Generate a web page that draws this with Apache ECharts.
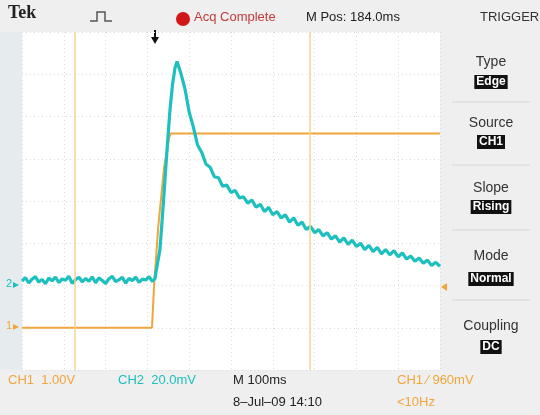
<!DOCTYPE html>
<html><head><meta charset="utf-8">
<script src="https://cdn.jsdelivr.net/npm/echarts@6/dist/echarts.min.js"></script>
<style>html,body{margin:0;padding:0;background:#efefef}#c{width:540px;height:415px}</style>
</head><body><div id="c"></div>
<script>
// time in ms from left edge of screen (100 ms/div, 10 div), trigger at ~316 ms
var ch1Data = [[0,0],[311,0],[316,1.0],[326,2.4],[340,3.8],[352,4.5],[356,4.6],[1000,4.6]];
var ch2Baseline = [[0,2.1],[8,3.8],[16,1.2],[24,3.0],[32,4.2],[40,1.6],[48,2.9],[56,0.8],[64,3.5],[72,2.2],[80,4.0],[88,1.4],[96,3.1],[104,2.5],[112,4.4],[120,1.0],[128,2.8],[136,3.9],[144,1.7],[152,3.3],[160,2.0],[168,4.1],[176,1.3],[184,3.6],[192,2.4],[200,0.9],[208,3.2],[216,4.3],[224,1.8],[232,2.7],[240,3.9],[248,1.1],[256,3.4],[264,2.3],[272,4.0],[280,1.5],[288,3.0],[296,2.6],[304,4.2],[312,1.9],[318,3.2]];
var ch2Rise = [[322,8],[330,17],[336,33],[342,50],[348,67],[354,83],[360,95],[366,103],[371,106]];
var ch2Decay = [[380,100.5],[390,93],[400,82],[410,75],[420,66.5],[430,63],[440,57.5],[450,56],[460,51.5],[470,51],[480,47],[490,47.5],[500,44],[510,45],[520,41.5],[530,42],[540,39],[550,40.5],[560,37],[570,38.5],[580,35],[590,37],[600,33.5],[610,35],[620,32],[630,33.5],[640,30],[650,32],[660,28.5],[670,30],[680,26.5],[690,28],[700,25],[710,26.5],[720,23.5],[730,25],[740,22],[750,23.5],[760,20.5],[770,22.5],[780,19.5],[790,21.5],[800,18.5],[810,20],[820,17],[830,19],[840,16],[850,18],[860,15],[870,17],[880,14.5],[890,16.5],[900,13.5],[910,15.5],[920,12.5],[930,14],[940,11.5],[950,13],[960,10.5],[970,12],[980,9.5],[990,11],[1000,9]];
var cursorTimes = [127, 689];
var menuTitles = ['Type','Source','Slope','Mode','Coupling'];
var menuValues = ['Edge','CH1','Rising','Normal','DC'];

var ORANGE = '#f2a53c', CYAN = '#1ebfbf';
var FONT = "'Liberation Sans Narrow','Liberation Sans',Arial,sans-serif";
var ch2Data = ch2Baseline.concat(ch2Rise, ch2Decay);

var chart = echarts.init(document.getElementById('c'), null, {renderer:'canvas'});

var graphics = [
  {type:'rect', shape:{x:0,y:0,width:540,height:415}, style:{fill:'#efefef'}, z:-10},
  {type:'rect', shape:{x:0,y:32,width:22,height:338}, style:{fill:'#e6ebee'}, z:-9},
  {type:'rect', shape:{x:22,y:32,width:418,height:338}, style:{fill:'#ffffff'}, z:-9},
  {type:'text', left:8, top:4, style:{text:'Tek', font:"bold 18px 'Liberation Serif',serif", fill:'#222'}},
  {type:'polyline', shape:{points:[[90,21],[97,21],[97,12],[105,12],[105,21],[112,21]]}, style:{stroke:'#555', lineWidth:1.5, fill:null}},
  {type:'circle', shape:{cx:183,cy:19,r:7}, style:{fill:'#d01818'}},
  {type:'text', left:194, top:11, style:{text:'Acq Complete', font:'13px '+FONT, fill:'#c23a3a'}},
  {type:'text', left:306, top:11, style:{text:'M Pos: 184.0ms', font:'13px '+FONT, fill:'#222'}},
  {type:'text', left:480, top:11, style:{text:'TRIGGER', font:'13px '+FONT, fill:'#333'}},
  {type:'polygon', shape:{points:[[151,37],[159,37],[155,44]]}, style:{fill:'#111'}},
  {type:'line', shape:{x1:155,y1:30,x2:155,y2:38}, style:{stroke:'#111', lineWidth:2}},
  {type:'text', left:6, top:320, style:{text:'1', font:'11px '+FONT, fill:ORANGE}},
  {type:'polygon', shape:{points:[[13,324],[13,330],[19,327]]}, style:{fill:ORANGE}},
  {type:'text', left:6, top:278, style:{text:'2', font:'11px '+FONT, fill:CYAN}},
  {type:'polygon', shape:{points:[[13,282],[13,288],[19,285]]}, style:{fill:CYAN}},
  {type:'polygon', shape:{points:[[447,283],[447,291],[441,287]]}, style:{fill:ORANGE}},
  {type:'text', left:8, top:374, style:{text:'CH1  1.00V', font:'13px '+FONT, fill:ORANGE}},
  {type:'text', left:118, top:374, style:{text:'CH2  20.0mV', font:'13px '+FONT, fill:CYAN}},
  {type:'text', left:233, top:374, style:{text:'M 100ms', font:'13px '+FONT, fill:'#222'}},
  {type:'text', left:397, top:374, style:{text:'CH1 \u2215 960mV', font:'13px '+FONT, fill:ORANGE}},
  {type:'text', left:233, top:396, style:{text:'8\u2013Jul\u201309 14:10', font:'13px '+FONT, fill:'#222'}},
  {type:'text', left:397, top:396, style:{text:'<10Hz', font:'13px '+FONT, fill:ORANGE}}
];
var titleY = [62,123,188,256,326];
var valY = [82,142,207,279,347];
var sepY = [102,165,230,300];
for (var i=0;i<menuTitles.length;i++){
  graphics.push({type:'text', x:491, y:titleY[i], style:{text:menuTitles[i], font:'14px '+FONT, fill:'#333', align:'center', verticalAlign:'middle'}});
  graphics.push({type:'text', x:491, y:valY[i], style:{text:menuValues[i], font:'bold 12px '+FONT, fill:'#fff', backgroundColor:'#111', padding:[1,2], align:'center', verticalAlign:'middle'}});
}
for (var j=0;j<sepY.length;j++){
  graphics.push({type:'line', shape:{x1:452,y1:sepY[j],x2:530,y2:sepY[j]}, style:{stroke:'#d6d6d6', lineWidth:1}});
}

chart.setOption({
  animation:false,
  backgroundColor:'transparent',
  graphic:graphics,
  grid:{left:22, right:100, top:32, bottom:45},
  xAxis:{type:'value', min:0, max:1000, interval:100,
    axisLine:{show:false}, axisTick:{show:false}, axisLabel:{show:false},
    splitLine:{show:true, lineStyle:{color:'#dcdcdc', type:[1,3], width:1}}},
  yAxis:[
    {type:'value', min:-1, max:7, interval:1,
      axisLine:{show:false}, axisTick:{show:false}, axisLabel:{show:false},
      splitLine:{show:true, lineStyle:{color:'#dcdcdc', type:[1,3], width:1}}},
    {type:'value', min:-40, max:120, interval:20, show:false, splitLine:{show:false}}
  ],
  series:[
    {name:'CH1', type:'line', yAxisIndex:0, data:ch1Data, symbol:'none',
      lineStyle:{color:ORANGE, width:2}, z:3,
      markLine:{silent:true, symbol:'none', label:{show:false},
        lineStyle:{color:'#f0d68e', width:1.5, type:'solid'},
        data:cursorTimes.map(function(t){return {xAxis:t};})}},
    {name:'CH2', type:'line', yAxisIndex:1, data:ch2Data, symbol:'none',
      lineStyle:{color:CYAN, width:3.2}, z:4}
  ]
});
</script></body></html>
